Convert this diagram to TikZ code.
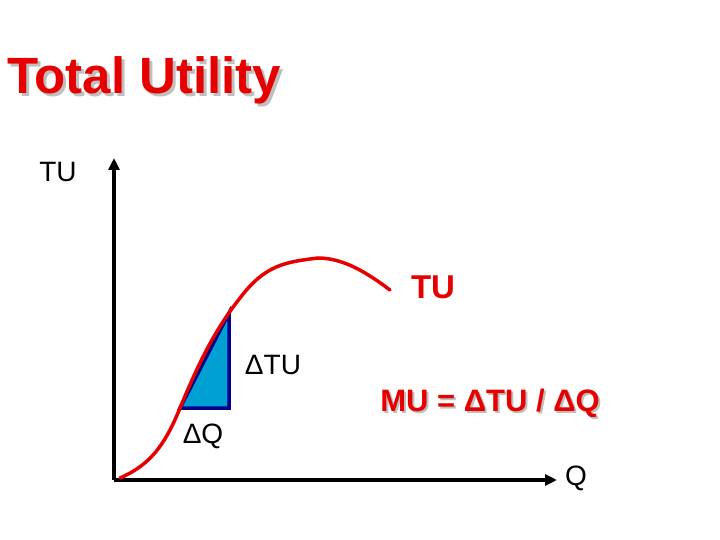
\documentclass[tikz,border=0pt]{standalone}
\usepackage{fontspec}
\setmainfont{Liberation Sans}
\usetikzlibrary{arrows.meta}
\definecolor{tured}{RGB}{230,0,0}
\definecolor{fillblue}{RGB}{0,160,210}
\definecolor{navy}{RGB}{0,0,140}
\tikzset{
  lbl/.style={font=\fontsize{28}{30}\selectfont, text=black, inner sep=0pt},
  redlbl/.style={font=\fontsize{31}{33}\selectfont\bfseries, text=tured, inner sep=0pt},
  shadowlbl/.style={font=\fontsize{31}{33}\selectfont\bfseries, text=black!25, inner sep=0pt},
  ax/.style={line width=3.5pt, -{Triangle[length=12pt,width=11pt]}},
}
\begin{document}
\begin{tikzpicture}[x=1pt,y=-1pt]
\useasboundingbox (0,0) rectangle (720,540);
% title
\node[font=\fontsize{51}{53}\selectfont\bfseries, text=black!25, anchor=west, inner sep=0pt] (titles) at (10,83) {Total Utility};
\node[font=\fontsize{51}{53}\selectfont\bfseries, text=tured, anchor=west, inner sep=0pt] (title) at (7,80) {Total Utility};
% axes
\coordinate (o) at (114,480);
\coordinate (yt) at (114,158);
\coordinate (xt) at (557,480);
\draw[ax] (o) -- (yt);
\draw[ax] (o) -- (xt);
\node[lbl] (tuy) at (58,172) {TU};
\node[lbl] (q) at (576,478) {Q};
% triangle
\coordinate (a) at (180,408);
\coordinate (b) at (229,313);
\coordinate (c) at (229,408);
\draw[fill=fillblue, draw=navy, line width=3.5pt, line join=miter] (a) -- (b) -- (c) -- cycle;
% curve
\draw[tured, line width=3.5pt, line cap=round] (120,478) .. controls (150,465) and (165,445) .. (180,408)
  .. controls (200,360) and (215,330) .. (240,298)
  .. controls (265,265) and (285,262) .. (318,258)
  .. controls (345,258) and (370,275) .. (390,290);
\node[redlbl, font=\fontsize{33}{35}\selectfont\bfseries] (tucurve) at (433,287) {TU};
\node[lbl] (dtu) at (273,365) {ΔTU};
\node[lbl] (dq) at (203,436) {ΔQ};
\node[shadowlbl] (mus) at (492,405) {MU = ΔTU / ΔQ};
\node[redlbl] (mu) at (490,403) {MU = ΔTU / ΔQ};
\end{tikzpicture}
\end{document}
